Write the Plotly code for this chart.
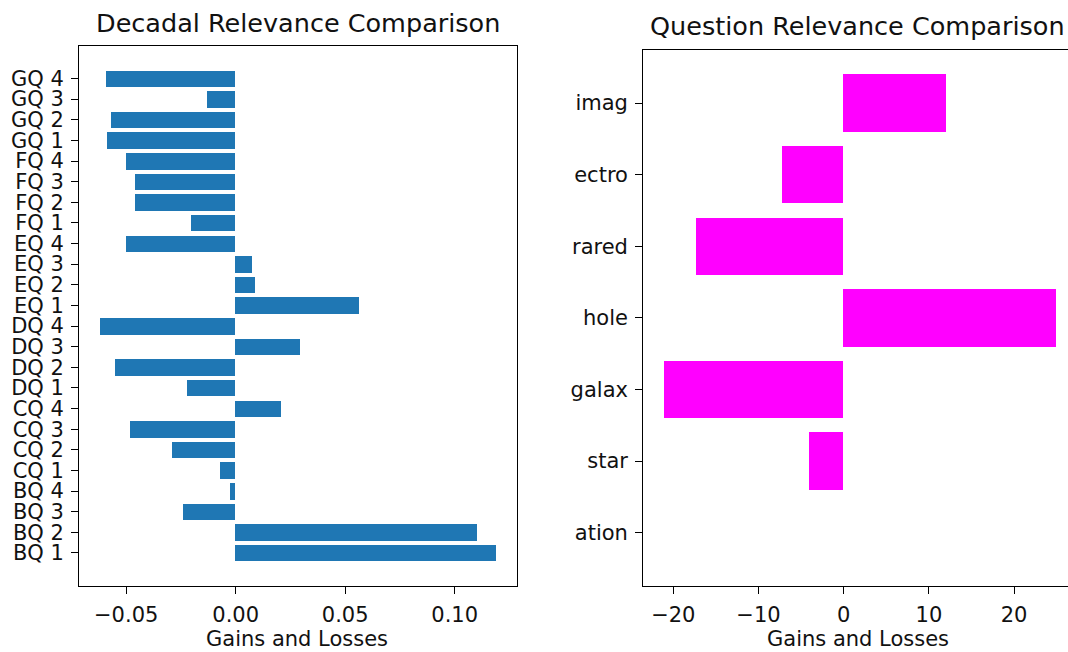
import plotly.graph_objects as go

decadal_categories = [
    "BQ 1", "BQ 2", "BQ 3", "BQ 4",
    "CQ 1", "CQ 2", "CQ 3", "CQ 4",
    "DQ 1", "DQ 2", "DQ 3", "DQ 4",
    "EQ 1", "EQ 2", "EQ 3", "EQ 4",
    "FQ 1", "FQ 2", "FQ 3", "FQ 4",
    "GQ 1", "GQ 2", "GQ 3", "GQ 4",
]
decadal_values = [
    0.1192, 0.1102, -0.0241, -0.0023,
    -0.0072, -0.0289, -0.0479, 0.0207,
    -0.0219, -0.0548, 0.0296, -0.0618,
    0.0565, 0.0088, 0.0077, -0.0498,
    -0.0201, -0.0458, -0.0458, -0.0498,
    -0.0588, -0.0568, -0.0131, -0.0589,
]
decadal_ticks = [-0.05, 0.0, 0.05, 0.10]

question_categories = ["ation", "star", "galax", "hole", "rared", "ectro", "imag"]
question_values = [0, -4, -21, 25, -17.3, -7.2, 12]
question_ticks = [-20, -10, 0, 10, 20]

W, H = 1068, 652
FONT = "DejaVu Sans"
TXT = "#111111"
TICKSZ = 21

def px_x(p):
    return p / W

def px_y(p):
    return 1 - p / H

fig = go.Figure()
fig.add_trace(go.Bar(
    x=decadal_values, y=decadal_categories, orientation="h", width=0.8,
    marker=dict(color="#1f77b4", line=dict(width=0)),
    xaxis="x", yaxis="y", showlegend=False,
))
fig.add_trace(go.Bar(
    x=question_values, y=question_categories, orientation="h", width=0.8,
    marker=dict(color="#ff00ff", line=dict(width=0)),
    xaxis="x2", yaxis="y2", showlegend=False,
))

axis_common = dict(
    showline=True, linecolor="black", linewidth=1.3,
    ticks="outside", ticklen=7, tickwidth=1.3, tickcolor="black",
    showgrid=False, zeroline=False, automargin=False,
    tickfont=dict(family=FONT, size=TICKSZ, color=TXT),
    ticklabelstandoff=3,
)

fig.update_layout(
    template="none",
    width=W, height=H,
    margin=dict(l=0, r=0, t=0, b=0),
    paper_bgcolor="white", plot_bgcolor="white",
    font=dict(family=FONT, color=TXT),
    bargap=0,
    xaxis=dict(
        domain=[px_x(79.3), px_x(517.3)], range=[-0.0714, 0.1286],
        tickmode="array", tickvals=decadal_ticks, tickformat=".2f",
        anchor="y", mirror=True,
        **axis_common,
    ),
    yaxis=dict(
        domain=[px_y(585.7), px_y(45.7)], range=[-1.59, 24.59],
        type="category", categoryorder="array", categoryarray=decadal_categories,
        tickmode="array", tickvals=decadal_categories, ticktext=decadal_categories,
        anchor="x", mirror=True,
        **axis_common,
    ),
    xaxis2=dict(
        domain=[px_x(643.3), 1.0], range=[-23.52, 26.33],
        tickmode="array", tickvals=question_ticks, anchor="y2", mirror=True,
        **axis_common,
    ),
    yaxis2=dict(
        domain=[px_y(585.7), px_y(50)], range=[-0.74, 6.74],
        type="category", categoryorder="array", categoryarray=question_categories,
        tickmode="array", tickvals=question_categories, ticktext=question_categories,
        anchor="x2", mirror=False,
        **axis_common,
    ),
)

fig.add_annotation(
    text="Decadal Relevance Comparison", xref="paper", yref="paper",
    x=px_x(298.3), y=px_y(45.7), xanchor="center", yanchor="bottom", yshift=6,
    showarrow=False, font=dict(family=FONT, size=25.5, color=TXT),
)
fig.add_annotation(
    text="Question Relevance Comparison", xref="paper", yref="paper",
    x=px_x(648), y=px_y(50), xanchor="left", yanchor="bottom", yshift=7,
    showarrow=False, font=dict(family=FONT, size=25.5, color=TXT),
)
fig.add_annotation(
    text="Gains and Losses", xref="paper", yref="paper",
    x=px_x(297), y=px_y(625), xanchor="center", yanchor="top",
    showarrow=False, font=dict(family=FONT, size=TICKSZ, color=TXT),
)
fig.add_annotation(
    text="Gains and Losses", xref="paper", yref="paper",
    x=px_x(858), y=px_y(625), xanchor="center", yanchor="top",
    showarrow=False, font=dict(family=FONT, size=TICKSZ, color=TXT),
)

fig.write_html("out.html")
